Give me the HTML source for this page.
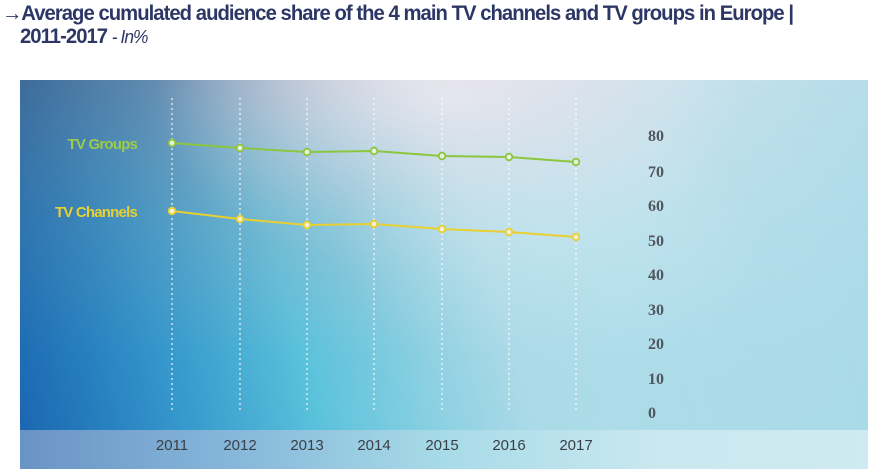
<!DOCTYPE html>
<html><head><style>
body{margin:0;width:878px;height:473px;background:#fff;overflow:hidden;font-family:"Liberation Sans Narrow","Liberation Sans",sans-serif;position:relative}
.t{position:absolute;left:2px;color:#2d3766;font-weight:bold;font-size:21px;letter-spacing:-1px;white-space:nowrap;transform-origin:0 0;transform:scaleX(0.965)}
.box{position:absolute;left:20px;top:80px;width:848px;height:389px;overflow:hidden;
background:
radial-gradient(ellipse 420px 260px at 430px 20px,rgba(235,232,240,0.95),rgba(235,232,240,0) 70%),
radial-gradient(ellipse 300px 200px at 530px 160px,rgba(215,238,244,0.8),rgba(215,238,244,0) 70%),
linear-gradient(100deg,#3e6c9b 0%,#5a86ad 12%,#9fb0c6 30%,#cfd7e1 50%,#c8e2ec 70%,#b0dbe9 100%)}
.low{position:absolute;left:0;top:0;width:848px;height:389px;
background:linear-gradient(75deg,rgba(26,100,175,1) 0%,rgba(45,150,205,0.9) 18%,rgba(70,195,222,0.8) 33%,rgba(150,215,230,0.6) 55%,rgba(165,218,232,0.4) 100%);
-webkit-mask-image:linear-gradient(180deg,transparent 0%,rgba(0,0,0,0.6) 35%,#000 70%);}
.foot{position:absolute;left:0;top:350px;width:848px;height:39px;background:linear-gradient(90deg,#6a93c5 0%,#86b7da 25%,#a8dbe8 50%,#c9e8ef 75%,#cfeaf1 100%)}
svg{position:absolute;left:0;top:0}
</style></head><body>
<div class="t" style="top:2px">→Average cumulated audience share of the 4 main TV channels and TV groups in Europe |</div>
<div class="t" style="top:25px;left:20px">2011-2017 <span style="font-weight:normal;font-style:italic;font-size:18px">- In%</span></div>
<div class="box"><div class="low"></div><div class="foot"></div></div>
<svg width="878" height="473" font-family="Liberation Sans Narrow,Liberation Sans,sans-serif">
<g stroke="#fff" stroke-width="1.2" stroke-dasharray="2,3" opacity="0.9">
<line x1="172" y1="98" x2="172" y2="410"/><line x1="240" y1="98" x2="240" y2="410"/><line x1="307" y1="98" x2="307" y2="410"/><line x1="374" y1="98" x2="374" y2="410"/><line x1="442" y1="98" x2="442" y2="410"/><line x1="509" y1="98" x2="509" y2="410"/><line x1="576" y1="98" x2="576" y2="410"/>
</g>
<polyline fill="none" stroke="#8cc63f" stroke-width="2" points="172,143 240,148 307,152 374,151 442,156 509,157 576,162"/>
<g fill="#e8f0e0" stroke="#8cc63f" stroke-width="1.8"><circle cx="172" cy="143" r="3.3"/><circle cx="240" cy="148" r="3.3"/><circle cx="307" cy="152" r="3.3"/><circle cx="374" cy="151" r="3.3"/><circle cx="442" cy="156" r="3.3"/><circle cx="509" cy="157" r="3.3"/><circle cx="576" cy="162" r="3.3"/></g>
<polyline fill="none" stroke="#e8d030" stroke-width="2" points="172,211 240,219 307,225 374,224 442,229 509,232 576,237"/>
<g fill="#f0f0d8" stroke="#e8d030" stroke-width="1.8"><circle cx="172" cy="211" r="3.3"/><circle cx="240" cy="219" r="3.3"/><circle cx="307" cy="225" r="3.3"/><circle cx="374" cy="224" r="3.3"/><circle cx="442" cy="229" r="3.3"/><circle cx="509" cy="232" r="3.3"/><circle cx="576" cy="237" r="3.3"/></g>
<text x="137" y="149" text-anchor="end" fill="#9ccc4a" font-size="15" font-weight="bold" letter-spacing="-0.8">TV Groups</text>
<text x="137" y="217" text-anchor="end" fill="#e8d030" font-size="15" font-weight="bold" letter-spacing="-0.8">TV Channels</text>
<g fill="#4f565d" font-size="16" font-weight="bold" font-family="Liberation Serif,serif">
<text x="648" y="141">80</text><text x="648" y="177">70</text><text x="648" y="211">60</text><text x="648" y="246">50</text><text x="648" y="280">40</text><text x="648" y="315">30</text><text x="648" y="349">20</text><text x="648" y="384">10</text><text x="648" y="418">0</text>
</g>
<g fill="#3a3f46" font-size="15" text-anchor="middle">
<text x="172" y="450">2011</text><text x="240" y="450">2012</text><text x="307" y="450">2013</text><text x="374" y="450">2014</text><text x="442" y="450">2015</text><text x="509" y="450">2016</text><text x="576" y="450">2017</text>
</g>
</svg>
</body></html>
